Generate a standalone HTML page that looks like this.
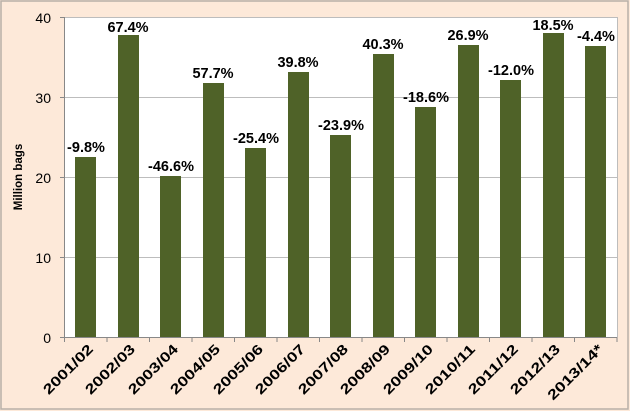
<!DOCTYPE html>
<html><head><meta charset="utf-8"><style>
html,body{margin:0;padding:0;background:#fde9d9;}
svg{display:block;}
text{font-family:"Liberation Sans",sans-serif;}
</style></head><body>
<svg width="630" height="411" viewBox="0 0 630 411">
<rect x="0" y="0" width="630" height="411" fill="#fde9d9"/>
<rect x="1" y="1" width="627" height="408" fill="none" stroke="#b8b0a8" stroke-width="1.5"/>
<rect x="64" y="17" width="553" height="320" fill="#fff"/>
<g stroke="#bdbdbd" stroke-width="1">
<line x1="64" y1="17.5" x2="617" y2="17.5"/>
<line x1="64" y1="97.5" x2="617" y2="97.5"/>
<line x1="64" y1="177.5" x2="617" y2="177.5"/>
<line x1="64" y1="257.5" x2="617" y2="257.5"/>
</g>
<line x1="617.5" y1="17" x2="617.5" y2="337" stroke="#bdbdbd"/>
<line x1="64.5" y1="17" x2="64.5" y2="337" stroke="#888"/>
<line x1="64" y1="337.5" x2="617" y2="337.5" stroke="#888"/>
<g stroke="#888"><line x1="60" y1="17.5" x2="64" y2="17.5"/><line x1="60" y1="97.5" x2="64" y2="97.5"/><line x1="60" y1="177.5" x2="64" y2="177.5"/><line x1="60" y1="257.5" x2="64" y2="257.5"/><line x1="60" y1="337.5" x2="64" y2="337.5"/></g>
<g font-size="14" fill="#000" text-anchor="end">
<text x="51" y="23">40</text><text x="51" y="103">30</text><text x="51" y="183">20</text><text x="51" y="263">10</text><text x="51" y="343">0</text>
</g>
<text transform="translate(22,177) rotate(-90)" text-anchor="middle" font-size="11.5" font-weight="bold">Million bags</text>
<g fill="#4f6228">
<rect x="75" y="157" width="21" height="180"/>
<rect x="118" y="35" width="21" height="302"/>
<rect x="160" y="176" width="21" height="161"/>
<rect x="203" y="83" width="21" height="254"/>
<rect x="245" y="148" width="21" height="189"/>
<rect x="288" y="72" width="21" height="265"/>
<rect x="330" y="135" width="21" height="202"/>
<rect x="373" y="54" width="21" height="283"/>
<rect x="415" y="107" width="21" height="230"/>
<rect x="458" y="45" width="21" height="292"/>
<rect x="500" y="80" width="21" height="257"/>
<rect x="543" y="33" width="21" height="304"/>
<rect x="585" y="46" width="21" height="291"/>
</g>
<g font-size="14.5" font-weight="bold" text-anchor="middle" fill="#000">
<text x="86" y="152">-9.8%</text>
<text x="128" y="32">67.4%</text>
<text x="171" y="171">-46.6%</text>
<text x="213" y="78">57.7%</text>
<text x="256" y="143">-25.4%</text>
<text x="298" y="67">39.8%</text>
<text x="341" y="130">-23.9%</text>
<text x="383" y="49">40.3%</text>
<text x="426" y="102">-18.6%</text>
<text x="468" y="40">26.9%</text>
<text x="511" y="75">-12.0%</text>
<text x="553" y="30">18.5%</text>
<text x="596" y="41">-4.4%</text>
</g>
<g stroke="#888">
<line x1="64.5" y1="337" x2="64.5" y2="342"/><line x1="107" y1="337" x2="107" y2="342"/><line x1="149.5" y1="337" x2="149.5" y2="342"/><line x1="192" y1="337" x2="192" y2="342"/><line x1="234.5" y1="337" x2="234.5" y2="342"/><line x1="277" y1="337" x2="277" y2="342"/><line x1="319.5" y1="337" x2="319.5" y2="342"/><line x1="362" y1="337" x2="362" y2="342"/><line x1="404.5" y1="337" x2="404.5" y2="342"/><line x1="447" y1="337" x2="447" y2="342"/><line x1="489.5" y1="337" x2="489.5" y2="342"/><line x1="532" y1="337" x2="532" y2="342"/><line x1="574.5" y1="337" x2="574.5" y2="342"/><line x1="617" y1="337" x2="617" y2="342"/>
</g>
<g font-size="14" font-weight="bold" text-anchor="end" fill="#000">
<text transform="translate(94,350) rotate(-45)" textLength="64" lengthAdjust="spacingAndGlyphs">2001/02</text>
<text transform="translate(136,350) rotate(-45)" textLength="64" lengthAdjust="spacingAndGlyphs">2002/03</text>
<text transform="translate(179,350) rotate(-45)" textLength="64" lengthAdjust="spacingAndGlyphs">2003/04</text>
<text transform="translate(221,350) rotate(-45)" textLength="64" lengthAdjust="spacingAndGlyphs">2004/05</text>
<text transform="translate(264,350) rotate(-45)" textLength="64" lengthAdjust="spacingAndGlyphs">2005/06</text>
<text transform="translate(306,350) rotate(-45)" textLength="64" lengthAdjust="spacingAndGlyphs">2006/07</text>
<text transform="translate(349,350) rotate(-45)" textLength="64" lengthAdjust="spacingAndGlyphs">2007/08</text>
<text transform="translate(391,350) rotate(-45)" textLength="64" lengthAdjust="spacingAndGlyphs">2008/09</text>
<text transform="translate(434,350) rotate(-45)" textLength="64" lengthAdjust="spacingAndGlyphs">2009/10</text>
<text transform="translate(476,350) rotate(-45)" textLength="64" lengthAdjust="spacingAndGlyphs">2010/11</text>
<text transform="translate(519,350) rotate(-45)" textLength="64" lengthAdjust="spacingAndGlyphs">2011/12</text>
<text transform="translate(561,350) rotate(-45)" textLength="64" lengthAdjust="spacingAndGlyphs">2012/13</text>
<text transform="translate(604,350) rotate(-45)" textLength="72" lengthAdjust="spacingAndGlyphs">2013/14*</text>
</g>
</svg>
</body></html>
